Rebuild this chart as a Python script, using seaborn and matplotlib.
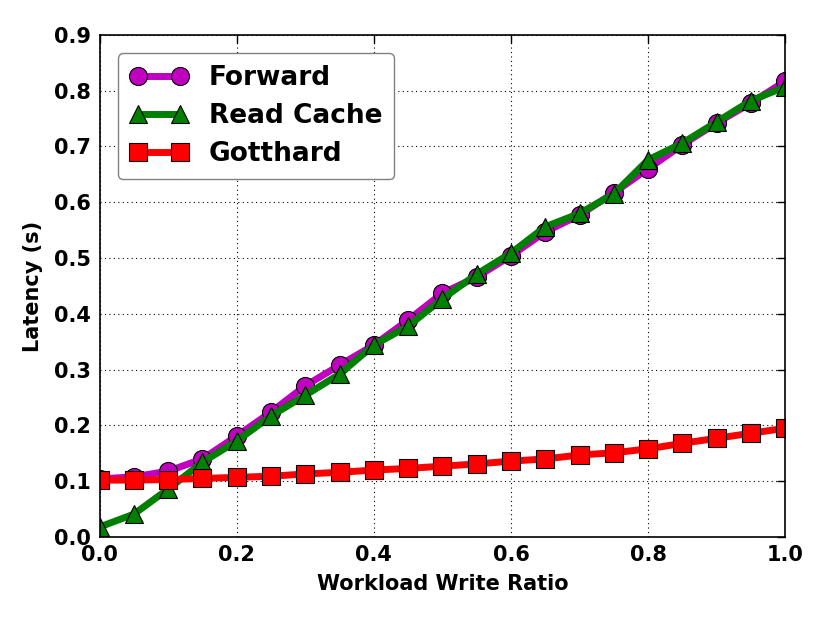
import matplotlib
matplotlib.use("Agg")
import matplotlib.pyplot as plt
import seaborn as sns
import pandas as pd

# write ratio on the x axis
ratio = [0.0, 0.05, 0.1, 0.15, 0.2, 0.25, 0.3, 0.35, 0.4, 0.45, 0.5,
         0.55, 0.6, 0.65, 0.7, 0.75, 0.8, 0.85, 0.9, 0.95, 1.0]

forward = [0.104, 0.108, 0.118, 0.140, 0.181, 0.224, 0.271, 0.308, 0.344, 0.389, 0.437,
           0.466, 0.504, 0.547, 0.577, 0.617, 0.660, 0.703, 0.742, 0.778, 0.817]
read_cache = [0.018, 0.041, 0.086, 0.134, 0.172, 0.217, 0.254, 0.292, 0.344, 0.378, 0.427,
              0.471, 0.509, 0.556, 0.580, 0.615, 0.676, 0.706, 0.744, 0.782, 0.807]
gotthard = [0.102, 0.102, 0.103, 0.105, 0.107, 0.109, 0.113, 0.116, 0.120, 0.123, 0.127,
            0.131, 0.136, 0.140, 0.147, 0.151, 0.158, 0.168, 0.177, 0.186, 0.195]

sns.set_style("white")
plt.rcParams["font.family"] = ["DejaVu Sans"]
plt.rcParams["font.weight"] = "bold"
plt.rcParams["axes.labelweight"] = "bold"
plt.rcParams["text.color"] = "black"
plt.rcParams["axes.labelcolor"] = "black"
plt.rcParams["xtick.color"] = "black"
plt.rcParams["ytick.color"] = "black"
plt.rcParams["xtick.direction"] = "in"
plt.rcParams["ytick.direction"] = "in"

fig = plt.figure(figsize=(8.3, 6.23), dpi=100)
ax = fig.add_axes([0.12, 0.138, 0.826, 0.806])

series = [("Forward", forward, "#bf00bf", "o"),
          ("Read Cache", read_cache, "green", "^"),
          ("Gotthard", gotthard, "red", "s")]

for name, vals, col, mk in series:
    df = pd.DataFrame({"x": ratio, "y": vals})
    sns.lineplot(data=df, x="x", y="y", ax=ax, color=col, marker=mk,
                 markersize=13, linewidth=5, markeredgecolor="black",
                 markeredgewidth=0.8, label=name)

ax.set_xlim(0, 1.0)
ax.set_ylim(0, 0.9)
ax.set_xticks([0.0, 0.2, 0.4, 0.6, 0.8, 1.0])
ax.set_yticks([i / 10 for i in range(10)])
ax.set_xticklabels(["0.0", "0.2", "0.4", "0.6", "0.8", "1.0"])
ax.set_yticklabels([f"{i / 10:.1f}" for i in range(10)])
ax.tick_params(labelsize=15, top=True, right=True, length=6, width=1, pad=6)
for lab in ax.get_xticklabels() + ax.get_yticklabels():
    lab.set_fontweight("bold")

ax.grid(True, color="black", linestyle=(0, (1, 3)), linewidth=0.8)
for sp in ax.spines.values():
    sp.set_color("black")
    sp.set_linewidth(1.2)

ax.set_xlabel("Workload Write Ratio", fontsize=15, fontweight="bold", labelpad=6)
ax.set_ylabel("Latency (s)", fontsize=15, fontweight="bold", labelpad=8)

leg = ax.legend(loc="upper left", prop={"size": 19, "weight": "bold"},
                numpoints=2, handlelength=2.2, fancybox=True, framealpha=1,
                borderpad=0.45, labelspacing=0.45, borderaxespad=0.7)
leg.get_frame().set_edgecolor("gray")

fig.savefig("out.png", dpi=100)
